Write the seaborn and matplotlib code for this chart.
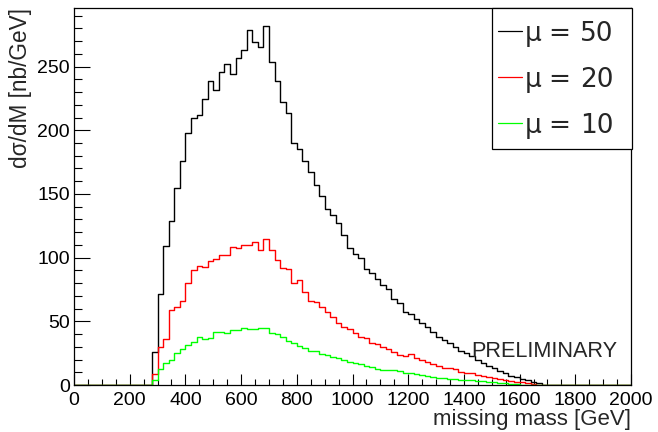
#! /usr/bin/env python3

import matplotlib
matplotlib.use('Agg')
import matplotlib.pyplot as plt
from matplotlib.lines import Line2D
from matplotlib.patches import Rectangle
from matplotlib.ticker import MultipleLocator
import numpy
import pandas
import seaborn as sns

bin_width = 20
mass_range = (0, 2000)
first_bin = 280

mu50 = [26.2, 71.2, 109.2, 128.8, 154.4, 176.0, 197.7, 210.0, 211.8, 224.6,
        238.8, 231.7, 245.9, 252.2, 244.3, 256.9, 263.2, 278.8, 269.5, 265.5,
        282.0, 253.4, 238.3, 222.1, 213.4, 189.8, 185.4, 176.0, 167.2, 157.4,
        148.2, 138.0, 133.6, 127.0, 117.8, 107.4, 102.9, 99.5, 90.9, 87.7,
        83.3, 78.3, 75.1, 67.6, 64.1, 57.6, 55.8, 51.6, 49.0, 45.8,
        41.9, 38.0, 35.3, 32.8, 30.1, 26.8, 24.9, 23.0, 19.7, 17.2,
        15.2, 13.1, 11.0, 9.1, 7.4, 6.0, 4.7, 3.9, 2.7, 1.3]
mu20 = [8.4, 29.6, 35.9, 58.7, 61.3, 66.0, 79.9, 90.4, 93.7, 92.9,
        97.7, 98.9, 101.9, 101.9, 108.2, 107.4, 110.2, 109.8, 112.3, 106.3,
        114.5, 106.3, 98.4, 91.7, 90.9, 79.9, 82.5, 73.0, 65.7, 65.0,
        61.4, 57.6, 53.7, 49.0, 45.8, 43.8, 40.6, 37.5, 36.7, 33.2,
        32.0, 29.6, 28.0, 26.2, 23.8, 23.0, 24.4, 20.9, 19.9, 18.3,
        16.5, 14.9, 13.6, 13.1, 12.3, 10.4, 9.6, 9.1, 8.1, 7.4,
        6.5, 5.7, 4.7, 3.9, 3.1, 2.6, 2.0, 1.2, 0.6, 0]
mu10 = [3.9, 12.3, 17.5, 19.7, 25.4, 28.0, 31.2, 33.5, 37.5, 36.4,
        36.7, 41.9, 41.3, 40.6, 43.2, 43.2, 44.7, 44.0, 44.0, 44.6,
        44.7, 40.6, 39.8, 37.5, 34.8, 32.9, 30.7, 28.8, 26.5, 26.5,
        24.6, 23.6, 22.2, 20.9, 19.7, 17.8, 17.0, 16.2, 15.1, 13.9,
        12.6, 11.8, 11.6, 11.5, 11.3, 9.6, 9.1, 8.7, 7.9, 7.4,
        6.5, 5.7, 5.2, 5.0, 4.7, 3.9, 3.9, 3.6, 3.4, 2.9,
        2.4, 2.1, 1.6, 1.2, 0.8, 0.5, 0.3, 0, 0, 0]

mu_values = ['50', '20', '10']
colors = ['black', 'red', '#00ff00']

W, H = 658, 432


def to_frame(values):
    nbins = (mass_range[1] - mass_range[0]) // bin_width
    out = numpy.zeros(nbins)
    i0 = first_bin // bin_width
    out[i0:i0 + len(values)] = values
    centers = mass_range[0] + bin_width * (numpy.arange(nbins) + 0.5)
    return pandas.DataFrame({'mass': centers, 'xsec': out})


def fx(x):
    return x / W


def fy(y):
    return 1 - y / H


sns.set_style('ticks')
plt.rcParams['font.family'] = ['Liberation Sans', 'DejaVu Sans']

fig = plt.figure(figsize=(W / 100, H / 100), dpi=100)
ax = fig.add_axes([fx(74), fy(385), fx(631) - fx(74), fy(8) - fy(385)])

for vals, col in zip([mu50, mu20, mu10], colors):
    sns.histplot(data=to_frame(vals), x='mass', weights='xsec',
                 binwidth=bin_width, binrange=mass_range, element='step',
                 fill=False, color=col, linewidth=1.0, ax=ax)

ax.set_xlim(0, 2000)
ax.set_ylim(0, 296)
ax.xaxis.set_major_locator(MultipleLocator(200))
ax.xaxis.set_minor_locator(MultipleLocator(50))
ax.yaxis.set_major_locator(MultipleLocator(50))
ax.yaxis.set_minor_locator(MultipleLocator(10))
ax.tick_params(which='both', direction='in', top=False, right=False,
               labelsize=14, width=0.8, colors='black')
ax.tick_params(axis='x', which='major', length=7.7, pad=5)
ax.tick_params(axis='x', which='minor', length=4)
ax.tick_params(axis='y', which='major', length=11.5, pad=3)
ax.tick_params(axis='y', which='minor', length=5.5)
for s in ax.spines.values():
    s.set_visible(True)
    s.set_linewidth(0.9)
    s.set_color('black')

ax.set_xlabel('missing mass [GeV]', fontsize=16, ha='right', va='baseline')
ax.xaxis.set_label_coords(1.0, -0.106)
ax.set_ylabel('d\u03c3/dM [nb/GeV]', fontsize=16.3, ha='right')
ax.yaxis.set_label_coords(-0.0754, 1.0)

fig.text(fx(471), fy(357), 'PRELIMINARY', fontsize=15.6,
         va='baseline', ha='left')

# legend box drawn the ROOT way
fig.add_artist(Rectangle((fx(492), fy(149)), fx(632) - fx(492),
                         fy(8) - fy(149), transform=fig.transFigure,
                         facecolor='white', edgecolor='black', lw=0.9))
for row, (mu, col) in enumerate(zip(mu_values, colors)):
    yc = 31 + row * 46
    fig.add_artist(Line2D([fx(498), fx(522)], [fy(yc), fy(yc)],
                          transform=fig.transFigure, color=col, lw=0.9))
    for x0, piece in [(525, '\u03bc'), (548, '='), (580, mu)]:
        fig.text(fx(x0), fy(yc), piece, fontsize=19, va='center_baseline',
                 ha='left', family='DejaVu Sans')

fig.savefig('out.png', dpi=100)
